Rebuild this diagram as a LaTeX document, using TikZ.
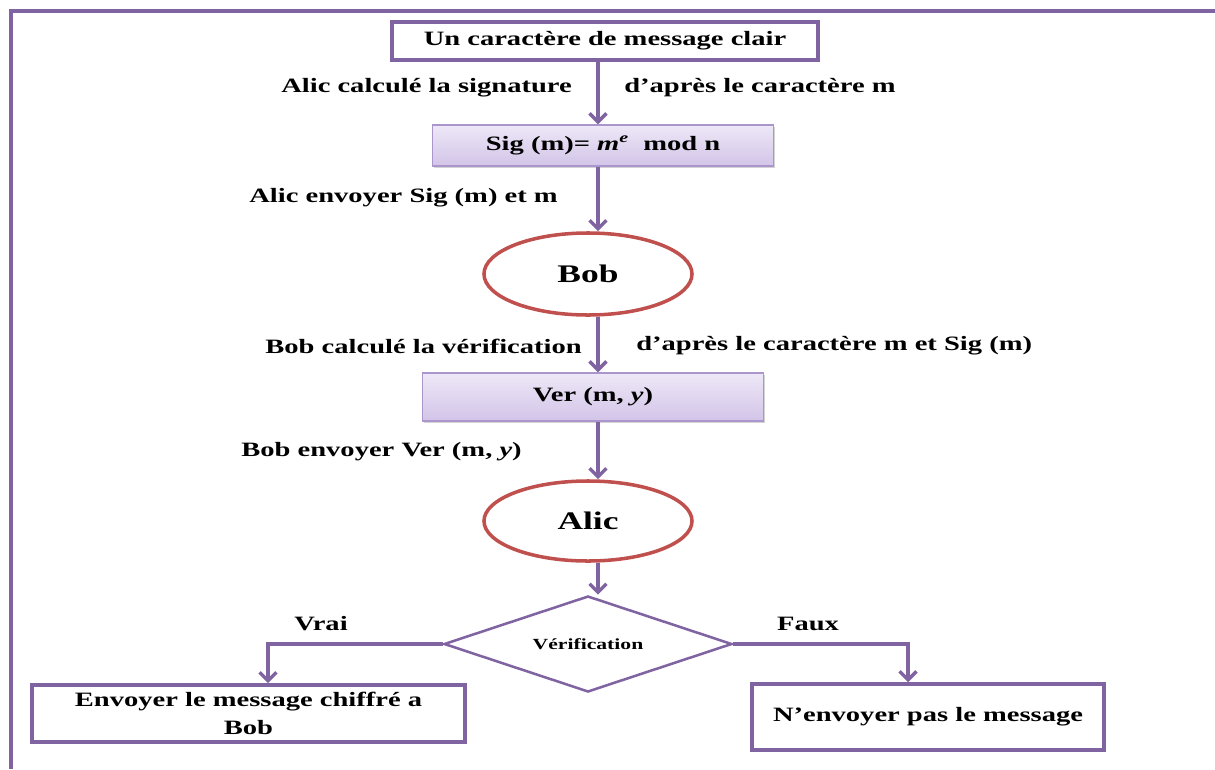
\documentclass[tikz,border=0pt]{standalone}
\usepackage{fontspec}
\setmainfont{Liberation Serif}[FakeStretch=1.4]
\usepackage{tikz}
\usetikzlibrary{positioning}
\usetikzlibrary{shapes.geometric, arrows.meta, shadows}
\definecolor{mypurp}{RGB}{128,100,162}
\definecolor{myred}{RGB}{192,80,77}
\definecolor{mylav1}{RGB}{238,232,247}
\definecolor{mylav2}{RGB}{210,196,232}
\definecolor{mylav3}{RGB}{170,150,205}
\tikzstyle{plainbox} = [rectangle, draw=mypurp, line width=2.5pt, fill=white, text centered, inner sep=0pt, font=\bfseries\fontsize{14.5}{19.5}\selectfont]
\tikzstyle{calcbox} = [rectangle, draw=mylav3, line width=1pt, top color=mylav1, bottom color=mylav2, drop shadow={opacity=0.35, shadow xshift=0.8pt, shadow yshift=-1.2pt}, text centered, inner sep=0pt, font=\bfseries\fontsize{14.5}{17}\selectfont]
\tikzstyle{party} = [ellipse, draw=myred, line width=2.5pt, fill=white, inner sep=0pt, font=\bfseries\fontsize{18}{20}\selectfont]
\tikzstyle{decision} = [diamond, shape aspect=3, draw=mypurp, line width=1.8pt, fill=white, inner sep=0pt, font=\bfseries\fontsize{11}{13}\selectfont]
\tikzstyle{note} = [inner sep=0pt, font=\bfseries\fontsize{14.5}{17}\selectfont]
\tikzstyle{flow} = [line width=2.5pt, draw=mypurp, -{Straight Barb[length=6pt,width=12pt]}]

\begin{document}
\begin{tikzpicture}[x=0.025cm, y=-0.025cm]
	\useasboundingbox (0,0) rectangle (1215,769);
	\draw [mypurp, line width=2.5pt] (1215,11) -- (11,11) -- (11,769);
	\coordinate (axis) at (598,0);
	\node (clair)[plainbox, minimum width=10.65cm, minimum height=0.95cm] at (605,41) {Un caractère de message clair};
	\node (sig)[calcbox, minimum width=8.525cm, minimum height=1.025cm] at (603,145.5) {Sig (m)= {\itshape m\textsuperscript{e}}\ \ mod n};
	\node (bob)[party, minimum width=5.2cm, minimum height=2.05cm] at (588,274) {Bob};
	\node (ver)[calcbox, minimum width=8.525cm, minimum height=1.2cm] at (593,397) {Ver (m, {\itshape y})};
	\node (alic)[party, minimum width=5.2cm, minimum height=2cm] at (588,521) {Alic};
	\node (verif)[decision, minimum width=7.2cm, minimum height=2.4cm] at (588,644) {Vérification};
	\node (envoi)[plainbox, minimum width=10.825cm, minimum height=1.425cm, align=center] at (248.5,713.5) {Envoyer le message chiffré a\\Bob};
	\node (refus)[plainbox, minimum width=8.8cm, minimum height=1.65cm] at (928,717) {N’envoyer pas le message};
	\node (lblsig)[note, anchor=east] at (572,88) {Alic calculé la signature};
	\node (lblcar)[note, anchor=west] at (624,88) {d’après le caractère m};
	\node (lblenv)[note, anchor=east] at (558,198) {Alic envoyer Sig (m) et m};
	\node (lblver)[note, anchor=east] at (582,346) {Bob calculé la vérification};
	\node (lblcarsig)[note, anchor=west] at (636,346) {d’après le caractère m et Sig (m)};
	\node (lblret)[note, anchor=east] at (522,452) {Bob envoyer Ver (m, {\itshape y})};
	\node (vrai)[note] at (321,624) {Vrai};
	\node (faux)[note] at (808,624) {Faux};
	\coordinate (vraicoin) at (268,644);
	\coordinate (fauxcoin) at (908,644);
	\draw [flow] (clair.south -| axis) -- (sig.north -| axis);
	\draw [flow] (sig.south -| axis) -- (bob.north -| axis);
	\draw [flow] (bob.south -| axis) -- (ver.north -| axis);
	\draw [flow] (ver.south -| axis) -- (alic.north -| axis);
	\draw [flow] (alic.south -| axis) -- (verif.north -| axis);
	\draw [flow] (verif.west) -- (vraicoin) -- (vraicoin |- envoi.north);
	\draw [flow] (verif.east) -- (fauxcoin) -- (fauxcoin |- refus.north);
\end{tikzpicture}
\end{document}
